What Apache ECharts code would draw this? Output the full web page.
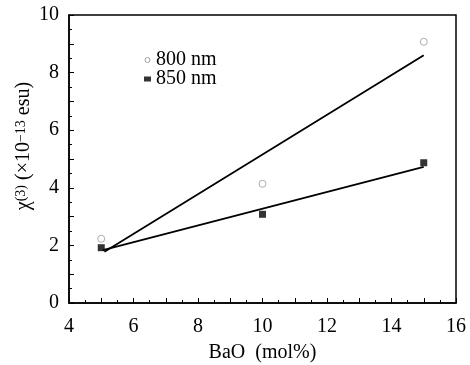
<!DOCTYPE html>
<html><head><meta charset="utf-8">
<script src="https://cdn.jsdelivr.net/npm/echarts@6/dist/echarts.min.js"></script>
<style>html,body{margin:0;padding:0;background:#fff}#c{width:470px;height:365px}</style>
</head><body><div id="c"></div>
<script>
var baoX = [5, 10, 15];
var chi800 = [2.23, 4.14, 9.07];
var chi850 = [1.92, 3.08, 4.87];
var fit800X = [5.1, 15];
var fit800Y = [1.78, 8.6];
var fit850X = [5.05, 15];
var fit850Y = [1.84, 4.73];
var xTicks = [4, 6, 8, 10, 12, 14, 16];
var yTicks = [0, 2, 4, 6, 8, 10];

function pairs(xs, ys){ return xs.map(function(x,i){return [x, ys[i]];}); }
var F = 'Liberation Serif';
var chart = echarts.init(document.getElementById('c'));
chart.setOption({
  animation:false,
  grid:{left:69,right:14,top:15,bottom:62,containLabel:false,outerBoundsMode:'none',
        show:true,borderColor:'#000',borderWidth:1.5,backgroundColor:'transparent'},
  legend:{
    orient:'vertical', left:139, top:45, itemGap:-1, itemWidth:7, itemHeight:5,
    textStyle:{fontFamily:F,fontSize:20,color:'#000'},
    data:[{name:'800 nm',icon:'circle',itemStyle:{color:'#fff',borderColor:'#888',borderWidth:1}},{name:'850 nm',icon:'rect'}]
  },
  graphic:[{
    type:'text', x:24, y:146, rotation:Math.PI/2,
    style:{
      text:'{t|χ}{s|(3)}{t| (×10}{s|−13}{t| esu)}',
      align:'center', verticalAlign:'middle',
      rich:{t:{fontFamily:F,fontSize:20,fill:'#000',verticalAlign:'bottom'},
            s:{fontFamily:F,fontSize:14,fill:'#000',verticalAlign:'top'}}
    }
  }],
  xAxis:{
    type:'value', min:xTicks[0], max:xTicks[xTicks.length-1], interval:1,
    name:'BaO  (mol%)', nameLocation:'middle', nameGap:40,
    nameTextStyle:{fontFamily:F,fontSize:20,color:'#000'},
    axisLine:{lineStyle:{color:'#000',width:1.5}},
    axisTick:{show:true,inside:true,length:5,lineStyle:{color:'#000',width:1}},
    minorTick:{show:true,splitNumber:2,length:3,lineStyle:{color:'#000',width:1}},
    splitLine:{show:false},
    axisLabel:{fontFamily:F,fontSize:20,color:'#000',margin:14,
      formatter:function(v){return xTicks.indexOf(v)>=0?String(v):'';}}
  },
  yAxis:{
    type:'value', min:yTicks[0], max:yTicks[yTicks.length-1], interval:1,
    axisLine:{lineStyle:{color:'#000',width:1.5}},
    axisTick:{show:true,inside:true,length:5,lineStyle:{color:'#000',width:1}},
    minorTick:{show:true,splitNumber:2,length:3,lineStyle:{color:'#000',width:1}},
    splitLine:{show:false},
    axisLabel:{fontFamily:F,fontSize:20,color:'#000',margin:10,
      formatter:function(v){return yTicks.indexOf(v)>=0?String(v):'';}}
  },
  series:[
    {name:'800 nm', type:'scatter', data:pairs(baoX,chi800), symbol:'circle', symbolSize:7,
     itemStyle:{color:'#fff',borderColor:'#999',borderWidth:1}, z:5},
    {name:'850 nm', type:'scatter', data:pairs(baoX,chi850), symbol:'rect', symbolSize:7,
     itemStyle:{color:'#000'}, z:5},
    {name:'fit800', type:'line', data:pairs(fit800X,fit800Y), symbol:'none',
     lineStyle:{color:'#000',width:1.8}},
    {name:'fit850', type:'line', data:pairs(fit850X,fit850Y), symbol:'none',
     lineStyle:{color:'#000',width:1.8}}
  ]
});
</script></body></html>
